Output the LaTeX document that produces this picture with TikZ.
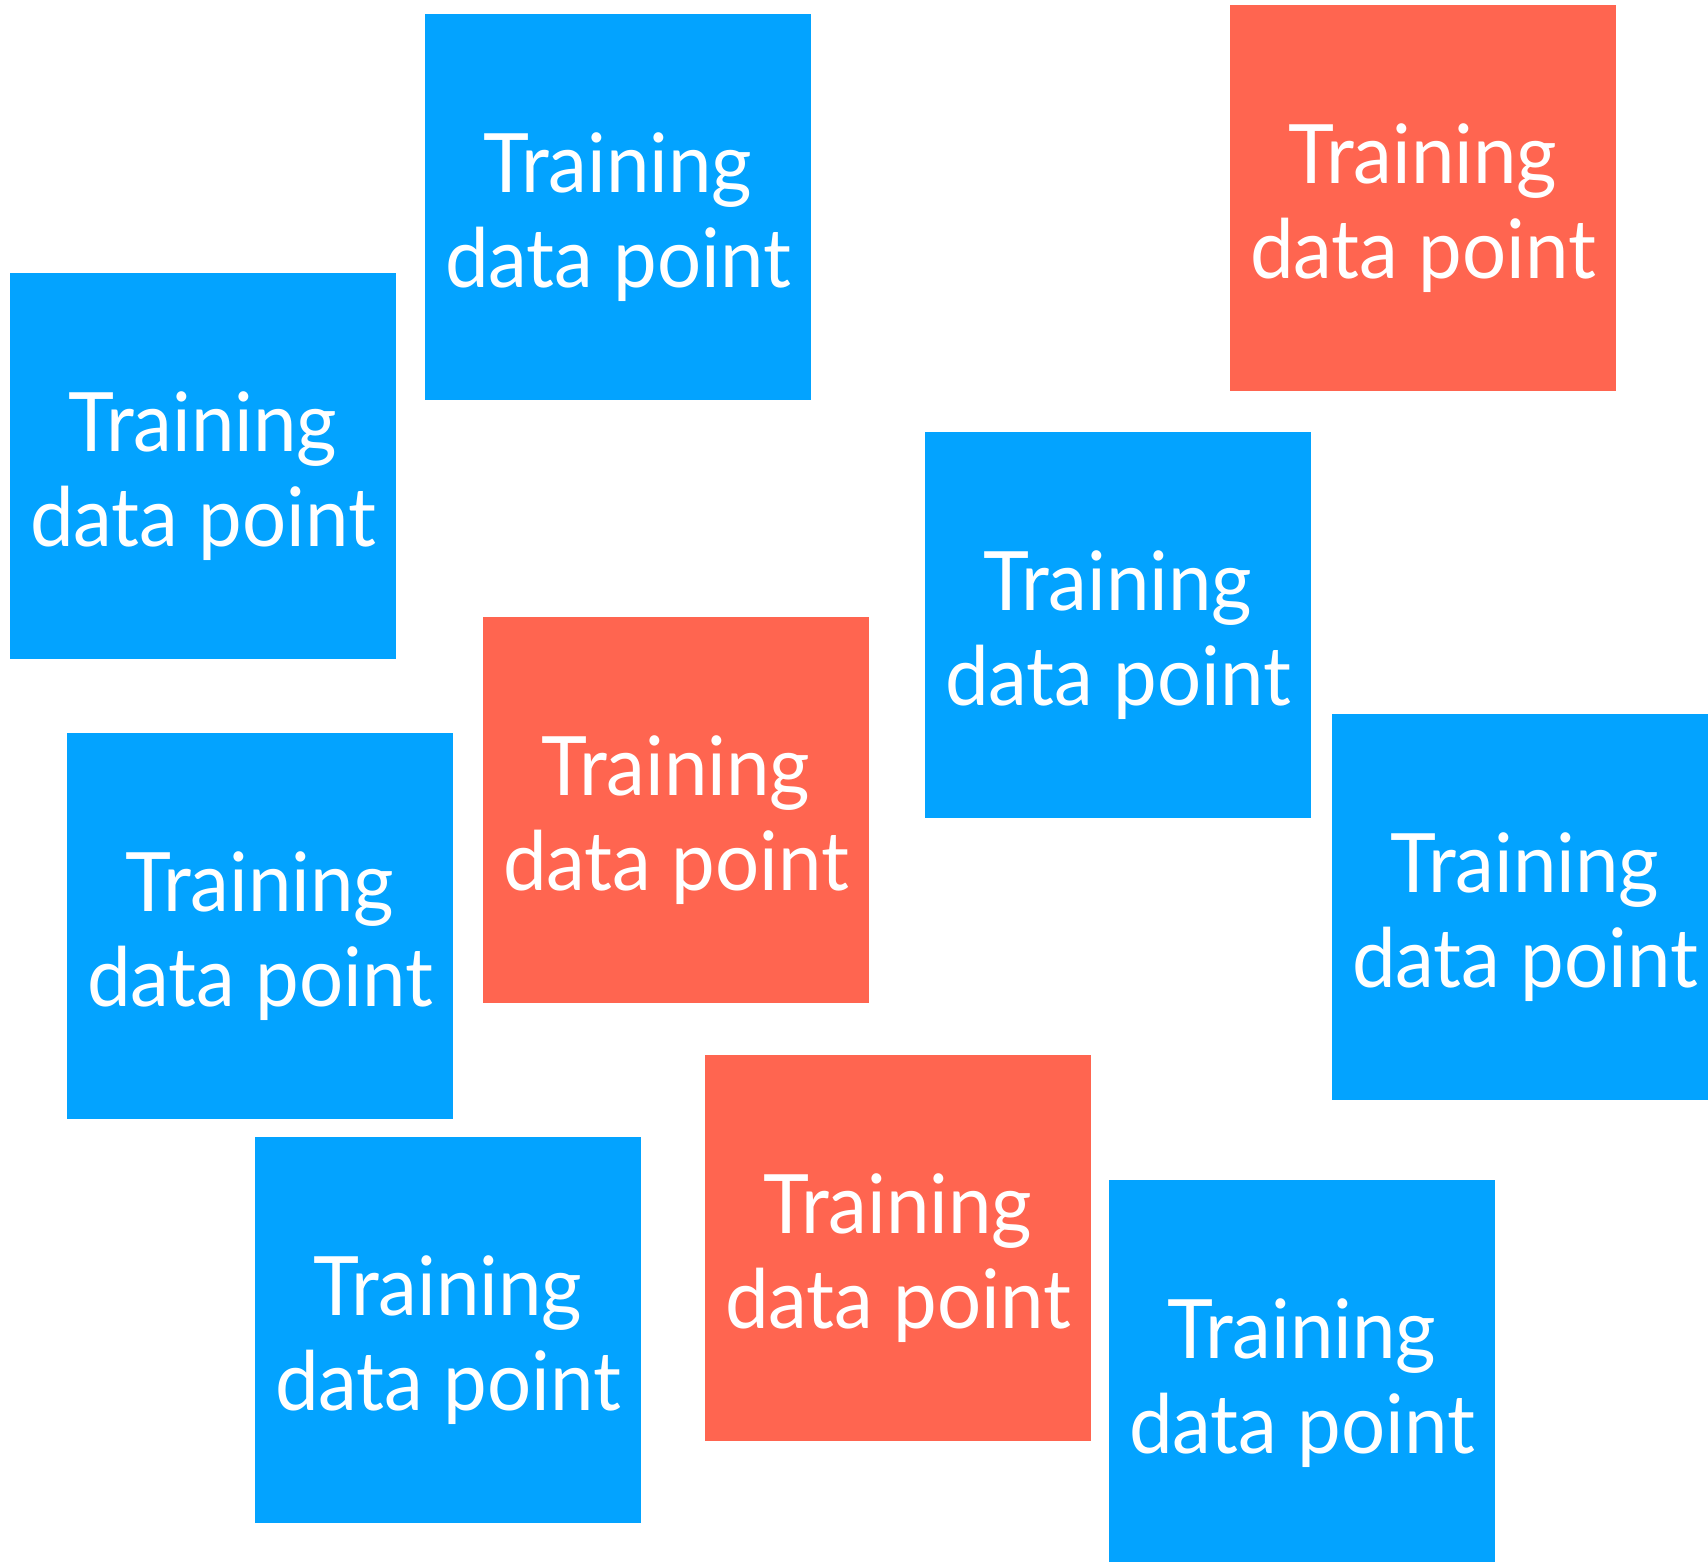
\documentclass[tikz,border=0pt]{standalone}
\usepackage{fontspec}
\setmainfont{Lato}[FakeStretch=0.95]
\definecolor{tblue}{HTML}{03A3FF}
\definecolor{tred}{HTML}{FF6550}
\tikzset{
  card/.style={rectangle, minimum width=386pt, minimum height=386pt, inner sep=0pt, outer sep=0pt, anchor=north west},
  bluecard/.style={card, fill=tblue},
  redcard/.style={card, fill=tred},
  cardtext/.style={text=white, align=center, inner sep=0pt, font=\fontsize{82}{95.7}\selectfont}
}
\begin{document}
\begin{tikzpicture}[x=1pt,y=-1pt]
\useasboundingbox (0,0) rectangle (1708,1562);
\clip (0,0) rectangle (1708,1562);
\node[bluecard] (b1) at (425,14) {};
\node[redcard]  (r1) at (1230,5) {};
\node[bluecard] (b2) at (10,273) {};
\node[bluecard] (b3) at (925,432) {};
\node[redcard]  (r2) at (483,617) {};
\node[bluecard] (b4) at (67,733) {};
\node[bluecard] (b5) at (1332,714) {};
\node[bluecard] (b6) at (255,1137) {};
\node[redcard]  (r3) at (705,1055) {};
\node[bluecard] (b7) at (1109,1180) {};
\foreach \n in {b1,r1,b2,b3,r2,b4,b5,b6,r3,b7}{
  \node[cardtext] (t\n) at ([yshift=-10pt]\n.center) {Training\\data point};
}
\end{tikzpicture}
\end{document}
